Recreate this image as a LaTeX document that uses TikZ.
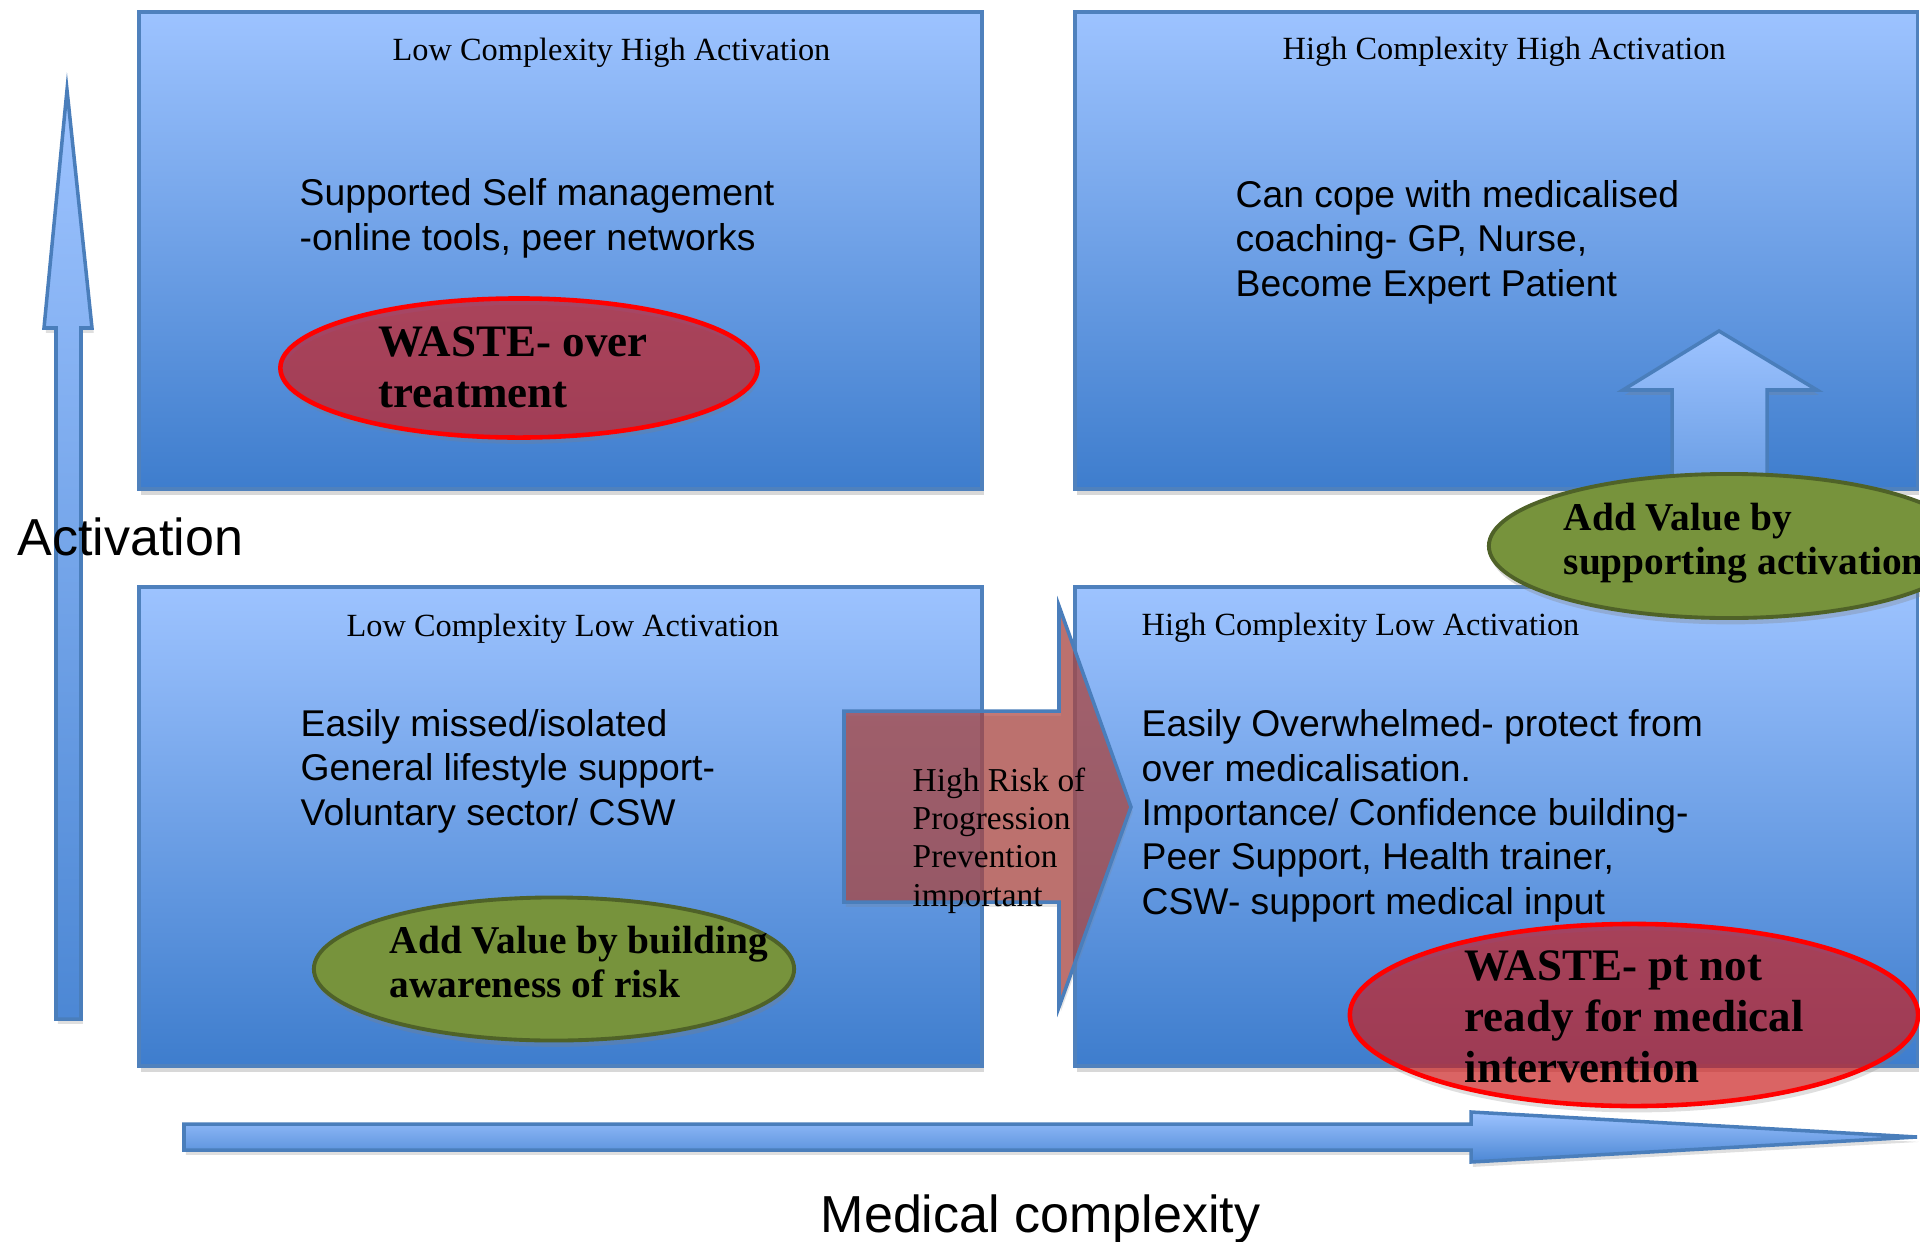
\documentclass[tikz,border=0pt]{standalone}
\usepackage{fontspec}
\setmainfont{Liberation Serif}
\newfontfamily\arialf{Liberation Sans}
\usetikzlibrary{shadows,shapes.geometric}
\definecolor{boxtop}{RGB}{157,195,255}
\definecolor{boxbot}{RGB}{62,125,205}
\definecolor{boxline}{RGB}{79,129,189}
\definecolor{arrline}{RGB}{74,126,187}
\definecolor{wastefill}{RGB}{216,12,12}
\definecolor{wasteline}{RGB}{255,0,0}
\definecolor{greenfill}{RGB}{119,147,60}
\definecolor{greenline}{RGB}{79,98,40}
\definecolor{riskfill}{RGB}{172,65,60}
\begin{document}
\begin{tikzpicture}[x=0.01cm,y=-0.01cm,
  qbox/.style={draw=boxline, line width=1pt, top color=boxtop, bottom color=boxbot,
    rectangle, inner sep=0pt, anchor=north west,
    drop shadow={shadow xshift=0.6pt, shadow yshift=-1.6pt, opacity=0.3}},
  bluearrow/.style={draw=arrline, line width=1pt, top color=boxtop, bottom color=boxbot!85!boxtop,
    drop shadow={shadow xshift=0.5pt, shadow yshift=-1.4pt, opacity=0.25}},
  wasteell/.style={ellipse, draw=wasteline, line width=1.3pt, fill=wastefill, fill opacity=0.58,
    inner sep=0pt, drop shadow={shadow xshift=0.5pt, shadow yshift=-1.8pt, opacity=0.25}},
  greenell/.style={ellipse, draw=greenline, line width=1.1pt, fill=greenfill,
    inner sep=0pt, drop shadow={shadow xshift=0.5pt, shadow yshift=-1.8pt, opacity=0.3}},
  ttl/.style={anchor=base west, inner sep=0pt, font=\fontsize{9.2}{11}\selectfont},
  body/.style={anchor=base west, inner sep=0pt, align=left, font=\arialf\fontsize{10.6}{12.6}\selectfont},
  wastetxt/.style={anchor=base west, inner sep=0pt, align=left, font=\bfseries\fontsize{12.8}{14.5}\selectfont},
  greentxt/.style={anchor=base west, inner sep=0pt, align=left, font=\bfseries\fontsize{11.2}{12.5}\selectfont},
  risktxt/.style={anchor=base west, inner sep=0pt, align=left, font=\fontsize{9.5}{10.9}\selectfont},
  axislbl/.style={anchor=base west, inner sep=0pt, font=\arialf\fontsize{14.8}{17}\selectfont}
]
\clip (0,0) rectangle (1920,1242);
\fill[white] (0,0) rectangle (1920,1242);

% vertical activation arrow
\path[bluearrow] (56,1019) -- (56,328) -- (44,328) -- (67,90) -- (92,328) -- (81,328) -- (81,1019) -- cycle;

% quadrant boxes
\node[qbox, minimum width=8.43cm, minimum height=4.77cm] (tl) at (137,10) {};
\node[qbox, minimum width=8.42cm, minimum height=4.77cm] (tr) at (1073,10) {};
\node[qbox, minimum width=8.43cm, minimum height=4.79cm] (bl) at (137,585) {};
\node[qbox, minimum width=8.42cm, minimum height=4.79cm] (br) at (1073,585) {};

% horizontal complexity arrow
\path[bluearrow] (184,1124) -- (1471,1124) -- (1471,1112) -- (1917,1137) -- (1471,1162) -- (1471,1150) -- (184,1150) -- cycle;

% up arrow in top right box
\path[bluearrow, bottom color=boxbot!55!boxtop] (1672,487) -- (1672,390) -- (1623,390) -- (1719,331) -- (1817,390) -- (1767,390) -- (1767,487) -- cycle;

% ellipses
\node[wasteell, minimum width=4.77cm, minimum height=1.39cm] (w1) at (519,368) {};
\node[greenell, minimum width=4.80cm, minimum height=1.43cm] (g1) at (554,969) {};
\node[greenell, minimum width=4.80cm, minimum height=1.44cm] (g2) at (1729,546) {};
\node[wasteell, minimum width=5.68cm, minimum height=1.82cm] (w2) at (1634,1015) {};

% risk arrow
\path[draw=arrline, line width=1pt, fill=riskfill, fill opacity=0.7,
  drop shadow={shadow xshift=0.5pt, shadow yshift=-1.4pt, opacity=0.2}]
  (844,711) -- (1059,711) -- (1059,606) -- (1131,807) -- (1059,1007) -- (1059,902) -- (844,902) -- cycle;

% titles
\node[ttl] (t1) at (392,60) {Low Complexity High Activation};
\node[ttl] (t2) at (1282,59) {High Complexity High Activation};
\node[ttl] (t3) at (346,636) {Low Complexity Low Activation};
\node[ttl] (t4) at (1141,635) {High Complexity Low Activation};

% body texts (anchored at the baseline of their last line)
\node[body] (b1) at (299,250) {Supported Self management\\-online tools, peer networks};
\node[body] (b2) at (1235,296) {Can cope with medicalised\\coaching- GP, Nurse,\\Become Expert Patient};
\node[body] (b3) at (300,825) {Easily missed/isolated\\General lifestyle support-\\Voluntary sector/ CSW};
\node[body] (b4) at (1141,914) {Easily Overwhelmed- protect from\\over medicalisation.\\Importance/ Confidence building-\\Peer Support, Health trainer,\\CSW- support medical input};

% ellipse texts
\node[wastetxt] (wt1) at (378,407) {WASTE- over\\treatment};
\node[wastetxt] (wt2) at (1464,1082) {WASTE- pt not\\ready for medical\\intervention};
\node[greentxt] (gt1) at (389,997) {Add Value by building\\awareness of risk};
\node[greentxt] (gt2) at (1563,574) {Add Value by\\supporting activation};

% risk text
\node[risktxt] (rt) at (912,906) {High Risk of\\Progression\\Prevention\\important};

% axis labels
\node[axislbl] (act) at (17,555) {Activation};
\node[axislbl] (med) at (820,1232) {Medical complexity};
\end{tikzpicture}
\end{document}
